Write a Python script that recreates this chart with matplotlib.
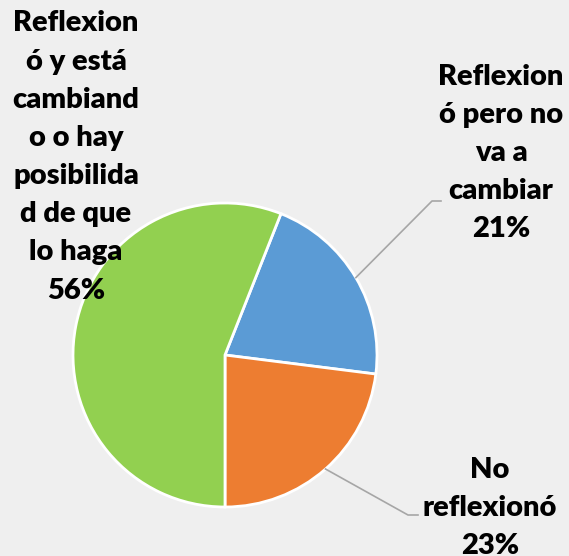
import numpy as np
import matplotlib.pyplot as plt

# slice data, drawn clockwise starting at the blue slice
labels = ["Reflexion\nó pero no\nva a\ncambiar", "No\nreflexionó",
          "Reflexion\nó y está\ncambiand\no o hay\nposibilida\nd de que\nlo haga"]
values = [21, 23, 56]
colors = ["#5b9bd5", "#ed7d31", "#92d050"]

fig = plt.figure(figsize=(5.69, 5.56), dpi=100)
fig.patch.set_facecolor("#efefef")
ax = fig.add_axes([0, 0, 1, 1])

cx, cy, r = 225, 201, 152
wedges, _ = ax.pie(values, colors=colors, startangle=68.4, counterclock=False,
                   center=(cx, cy), radius=r, frame=True,
                   wedgeprops=dict(edgecolor="white", linewidth=2))
ax.set_xlim(0, 569)
ax.set_ylim(0, 556)
ax.axis("off")

pct = [f"{v}%" for v in values]
font = dict(fontsize=21, fontweight="heavy", color="black", family="Lato",
            ha="center", va="center", linespacing=1.58)

# label positions (figure layout)
pos = [(501, 403), (490, 48), (76, 399)]
elbows = [((432, 355), (441, 355)), ((408, 41), (418, 41))]

for i, w in enumerate(wedges):
    ax.text(pos[i][0], pos[i][1], labels[i] + "\n" + pct[i], **font)
    if i < 2:
        ang = np.deg2rad((w.theta1 + w.theta2) / 2)
        px, py = cx + r * np.cos(ang), cy + r * np.sin(ang)
        (ex, ey), (fx, fy) = elbows[i]
        ax.plot([px, ex, fx], [py, ey, fy], color="#a6a6a6", lw=1.2)

plt.savefig("out.png", dpi=100, facecolor=fig.get_facecolor())
